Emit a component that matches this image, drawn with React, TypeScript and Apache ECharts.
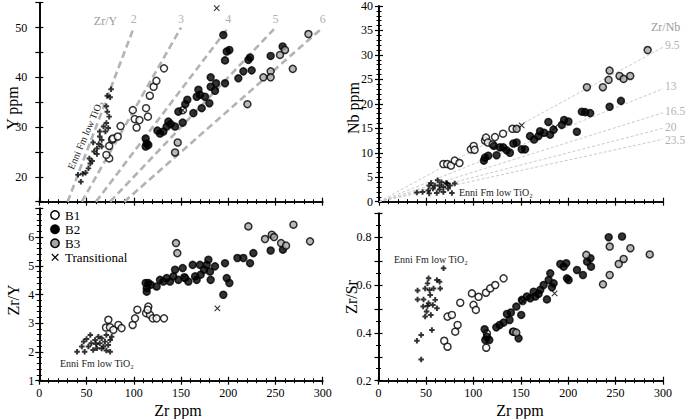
import React, { useEffect, useRef } from 'react';
import * as echarts from 'echarts';

const FONT = "'Liberation Serif', 'DejaVu Serif', serif";

// ---- tick labels ----
const zrTickLabels = [0, 50, 100, 150, 200, 250, 300];
const yTickLabels = [20, 30, 40, 50];
const nbTickLabels = [0, 5, 10, 15, 20, 25, 30, 35, 40];
const zrYTickLabels = [1, 2, 3, 4, 5, 6];
const zrSrTickLabels = [2, 4, 6, 8]; // tenths: 0.2, 0.4, 0.6, 0.8

// ---- reference ratios ----
const zrYRatios = [2, 3, 4, 5, 6];
const zrYLineY = [15, 50];
const zrNbRatios = [9.5, 13, 16.5, 20, 23.5];
const zrNbLineZr = [0, 300];

const legendNames = ['B1', 'B2', 'B3', 'Transitional'];
const enniLabel = 'Enni Fm low TiO₂';

// ---- Panel A: Y ppm vs Zr ppm ----
const aEnni = [[44,19.0],[41,20.4],[46,20.6],[49,20.8],[52,21.7],[54,22.7],[56,23.2],[53,23.7],[61,24.6],[58,25.1],[61,25.7],[66,26.1],[63,26.6],[57,26.9],[66,27.4],[64,28.1],[64,29.1],[70,29.1],[68,30.1],[73,29.8],[71,30.8],[74,32.1],[72,33.1],[71,34.2],[75,36.0],[72,36.3],[76,37.6]];
const aB1 = [[74,23.7],[71,24.4],[74,26.2],[77,27.5],[78,27.7],[83,28.1],[86,30.2],[99,33.4],[101,31.6],[103,29.9],[106,31.4],[113,33.8],[115,32.1],[117,36.3],[121,38.1],[124,39.3],[132,41.8],[152,33.4]];
const aB2 = [[112.6,27.7],[113.7,26.7],[112.6,26.1],[115.4,26.4],[125,29.3],[127.8,28.7],[131.3,29.1],[134.8,30.1],[136.6,31.1],[139.1,30.6],[143.7,30.1],[147.2,33.1],[151.8,30.9],[154.5,34.6],[156.7,35.5],[163.1,32.8],[166.6,36.1],[168.4,37.5],[170.1,36.5],[171.9,33.8],[175.4,36.1],[180,34.8],[181.4,38.1],[181.4,40],[186,37.3],[187.1,38.8],[194.8,48.5],[196.6,43.4],[196.6,38.8],[198.4,45.2],[201.2,45.5],[210.7,39.8],[216,41.2],[221.3,43.5],[223.1,44],[224.8,41.4],[244.9,44.3],[257.6,46.2]];
const aB3 = [[146.5,26.9],[143.7,24.9],[220.3,34.6],[237.2,40],[244.9,41.2],[244.9,40],[254.8,44.5],[260.1,45.5],[268.3,41.7],[284.9,48.7]];
const aTrans = [[187.8,53.9],[151.8,33.4]];

// ---- Panel B: Nb ppm vs Zr ppm ----
const bEnni = [[40,1.9],[46,2.0],[52,2.3],[53,3.3],[55,3.8],[62,4.4],[64,3.3],[68,3.0],[68,2.0],[72,3.7],[75,3.3],[80,3.7],[77,1.8],[61,1.8],[57,2.7],[66,4.0],[71,3.8],[53,1.7],[59,3.3],[73,2.7],[64,2.5]];
const bB1 = [[68,7.7],[72,7.7],[76,7.4],[80,8.4],[85,7.9],[97,10.7],[100,11.4],[101,10.6],[112,12.5],[113,13.1],[115,12.1],[120,11.7],[122.5,13.2],[131,13.9],[141,14.9]];
const bB2 = [[110.8,8.4],[111.9,9.0],[115.4,9.4],[121.4,11.4],[124.2,9.5],[127.8,11.1],[131.3,11.1],[134.8,10.5],[138.3,10.0],[141.9,11.9],[145.4,12.1],[150.7,10.7],[154.3,10.7],[159.5,13.4],[163.8,12.7],[168.4,13.4],[170.1,14.4],[174.4,14.1],[178.9,16.3],[180.7,13.7],[184.3,14.7],[193.1,15.7],[195.5,16.7],[200.1,16.4],[209,14.3],[214.3,18.4],[217.8,18.3],[223.1,18.1],[243.6,19.4],[255.6,20.6]];
const bB3 = [[145.4,14.9],[219.6,23.4],[236.5,23.4],[242.5,24.9],[243.6,26.8],[254.1,25.7],[258.4,25.1],[265.4,25.7],[283.8,31.0]];
const bTrans = [[150.7,15.6],[186,15.2]];

// ---- Panel C: Zr/Y vs Zr ppm ----
const cEnni = [[40,2.01],[45,2.19],[47,2.36],[52,2.19],[54,2.59],[55,2.30],[59,2.42],[61,2.13],[62.5,2.53],[64,2.30],[66,2.48],[68,2.19],[69.5,2.36],[71,2.59],[73,2.24],[75,2.42],[76.6,2.53],[71,2.05],[75,2.01],[48,2.01],[57,2.07],[50,2.45],[60,2.28],[66,2.12]];
const cB1 = [[70.6,2.85],[73.1,3.12],[74.8,2.86],[78.4,2.77],[83.7,2.94],[87.1,2.83],[98.8,2.94],[101.3,3.17],[103.8,3.47],[113,3.35],[115.4,3.58],[117.2,3.29],[120,3.17],[124.2,3.17],[132,3.17],[114.7,3.47],[153.5,4.6]];
const cB2 = [[112.6,4.40],[113.7,4.22],[113.7,4.10],[115.4,4.40],[117.9,4.34],[124.2,4.28],[127.8,4.51],[131.3,4.45],[134.8,4.57],[138.3,4.45],[141.9,4.63],[143.7,4.86],[147.2,4.51],[151.8,4.92],[154.3,4.57],[157.8,4.45],[162.4,5.03],[164.9,4.63],[166.6,4.51],[170.1,5.03],[170.8,4.69],[174.4,4.86],[177.2,5.03],[179,5.21],[180.7,4.80],[181.4,4.51],[186,4.98],[194.8,3.99],[196.6,5.09],[198.4,4.57],[201.2,4.40],[209.7,5.27],[216,5.27],[223.1,5.09],[226.6,5.44],[244.9,5.53],[257.9,5.56]];
const cB3 = [[144.7,5.79],[146.1,5.44],[221.3,6.37],[238.9,5.93],[246.1,6.08],[248.5,6.00],[255.9,5.79],[261.2,5.70],[269,6.43],[286.6,5.85]];
const cTrans = [[153.5,4.6],[188.5,3.52]];

// ---- Panel D: Zr/Sr vs Zr ppm ----
const dEnni = [[40.5,0.367],[45,0.391],[45,0.289],[41.2,0.577],[41.2,0.540],[47.5,0.540],[49.2,0.586],[51.7,0.607],[52.8,0.628],[53.8,0.579],[54.5,0.558],[47.1,0.510],[50.7,0.489],[49.2,0.468],[55.2,0.475],[56.3,0.412],[58,0.586],[59.8,0.538],[61.6,0.503],[61.6,0.621],[64.4,0.614],[65.1,0.586],[68.6,0.670],[52.8,0.524],[57.3,0.517],[51.7,0.512]];
const dB1 = [[69.3,0.367],[72.8,0.342],[72.8,0.468],[77.4,0.475],[80.9,0.405],[83.4,0.433],[86.2,0.526],[98.5,0.565],[100.2,0.517],[102.7,0.496],[105.5,0.551],[113.3,0.568],[114.3,0.398],[113.6,0.338],[117.8,0.586],[123.1,0.600],[131.9,0.628],[152,0.533]];
const dB2 = [[111.9,0.415],[112.6,0.370],[114.3,0.384],[116.8,0.370],[124.2,0.423],[127.7,0.433],[131.9,0.443],[135.4,0.479],[138.2,0.454],[139.6,0.485],[141.8,0.405],[147.7,0.377],[150.5,0.475],[145.3,0.510],[151.2,0.538],[156.5,0.552],[160,0.545],[163.6,0.572],[165.3,0.552],[168.8,0.563],[170.6,0.580],[174.1,0.600],[177.6,0.540],[179.4,0.621],[181.1,0.649],[182.9,0.591],[184.7,0.607],[191.7,0.688],[195.2,0.677],[198,0.691],[198.7,0.628],[200.5,0.621],[209.3,0.663],[215.6,0.642],[219.9,0.698],[223.5,0.712],[224.1,0.677],[242.7,0.800],[256.8,0.803]];
const dB3 = [[142.5,0.405],[145.3,0.401],[219.1,0.726],[236.7,0.603],[243.8,0.761],[243.8,0.642],[253.3,0.688],[258.5,0.709],[265.6,0.754],[286,0.728]];
const dTrans = [[152,0.533],[185.7,0.565]];

const PLUS = 'path://M3.2,0H6.8V3.2H10V6.8H6.8V10H3.2V6.8H0V3.2H3.2Z';
const CROSS = 'path://M0,0L10,10M10,0L0,10';

const near = (v: number, arr: number[]) => arr.some((t) => Math.abs(v - t) < 1e-6);

const grids = [
  { left: 39.3, top: 2.7, width: 283.4, height: 199 },
  { left: 379, top: 2.7, width: 284, height: 199 },
  { left: 39.3, top: 208.3, width: 283.4, height: 172.4 },
  { left: 378.5, top: 213.3, width: 284.5, height: 167.4 },
];

function xAxes(g: number, showLabels: boolean) {
  const base: any = {
    type: 'value', gridIndex: g, min: 0, max: 300, interval: 50, position: 'bottom',
    splitLine: { show: false },
    axisLine: { show: true, onZero: false, lineStyle: { color: '#000', width: 1.6 } },
  };
  return [
    {
      ...base,
      axisTick: { show: true, inside: false, length: 4, lineStyle: { color: '#000', width: 1.2 } },
      minorTick: { show: true, splitNumber: 5, length: 2.5, lineStyle: { color: '#000', width: 1 } },
      axisLabel: {
        show: showLabels, margin: 6, fontFamily: FONT, fontSize: 12, color: '#000',
        showMinLabel: true, showMaxLabel: true, hideOverlap: false,
        formatter: (v: number) => (near(v, zrTickLabels) ? String(v) : ''),
      },
    },
    {
      ...base,
      axisTick: { show: true, inside: true, length: 4, lineStyle: { color: '#000', width: 1.2 } },
      minorTick: { show: true, splitNumber: 5, length: 2.5, lineStyle: { color: '#000', width: 1 } },
      axisLabel: { show: false },
    },
  ];
}

function yAxes(g: number, min: number, max: number, interval: number, minorSplit: number,
  fmt: (v: number) => string, margin: number) {
  const base: any = {
    type: 'value', gridIndex: g, min, max, interval, position: 'left',
    splitLine: { show: false },
    axisLine: { show: true, onZero: false, lineStyle: { color: '#000', width: 1.6 } },
  };
  const minor = minorSplit > 0
    ? { show: true, splitNumber: minorSplit, length: 2.5, lineStyle: { color: '#000', width: 1 } }
    : { show: false };
  return [
    {
      ...base,
      axisTick: { show: true, inside: false, length: 4, lineStyle: { color: '#000', width: 1.2 } },
      minorTick: minor,
      axisLabel: {
        show: true, margin, fontFamily: FONT, fontSize: 12, color: '#000',
        showMinLabel: true, showMaxLabel: true, hideOverlap: false,
        formatter: fmt,
      },
    },
    {
      ...base,
      axisTick: { show: true, inside: true, length: 4, lineStyle: { color: '#000', width: 1.2 } },
      minorTick: minor,
      axisLabel: { show: false },
    },
  ];
}

const styleFor: Record<string, any> = {
  B1: { symbol: 'circle', symbolSize: 7, itemStyle: { color: '#fff', borderColor: '#000', borderWidth: 1.5 } },
  B2: { symbol: 'circle', symbolSize: 7, itemStyle: { color: '#000', borderColor: '#000', borderWidth: 1.5 } },
  B3: { symbol: 'circle', symbolSize: 7, itemStyle: { color: '#a6a6a6', borderColor: '#000', borderWidth: 1.5 } },
  Transitional: { symbol: CROSS, symbolSize: 5.5, itemStyle: { color: 'rgba(0,0,0,0)', borderColor: '#000', borderWidth: 1.1 } },
  Enni: { symbol: PLUS, symbolSize: 5.5, itemStyle: { color: '#000' } },
};

function pointSeries(g: number, sets: Record<string, number[][]>) {
  return ['B1', 'B2', 'B3', 'Transitional', 'Enni'].map((name) => ({
    type: 'scatter', name, xAxisIndex: 2 * g, yAxisIndex: 2 * g,
    data: sets[name], silent: true, z: 3, ...styleFor[name],
  }));
}

const textStyle = (size: number, color = '#000', align = 'left') => ({
  font: `${size}px ${FONT}`, fontSize: size, fontFamily: FONT, fill: color,
  align, textAlign: align, verticalAlign: 'middle', textVerticalAlign: 'middle',
});

// vertical nudges (px) for the Zr/Nb labels so they do not collide
const zrNbLabelNudge = [-2, -2.6, -2, -1, 0.5];

export default function App() {
  const ref = useRef<HTMLDivElement>(null);
  useEffect(() => {
    if (!ref.current) return;
    const chart = echarts.init(ref.current, undefined, { renderer: 'svg' });

    const lineSeries: any[] = [];
    zrYRatios.forEach((k) => {
      lineSeries.push({
        type: 'line', xAxisIndex: 0, yAxisIndex: 0, silent: true, symbol: 'none', z: 1,
        data: zrYLineY.map((y) => [k * y, y]),
        lineStyle: { color: '#b3b3b3', width: 2.6, type: [7, 4] },
      });
    });
    lineSeries.push({
      type: 'scatter', xAxisIndex: 0, yAxisIndex: 0, silent: true, symbolSize: 1, z: 1,
      itemStyle: { color: 'rgba(0,0,0,0)' },
      data: zrYRatios.map((k) => ({ value: [k * zrYLineY[1], zrYLineY[1]], name: String(k) })),
      label: { show: true, position: 'top', distance: 2, formatter: '{b}', color: '#9a9a9a', fontFamily: FONT, fontSize: 12 },
    });
    zrNbRatios.forEach((k) => {
      lineSeries.push({
        type: 'line', xAxisIndex: 2, yAxisIndex: 2, silent: true, symbol: 'none', z: 1,
        data: zrNbLineZr.map((x) => [x, x / k]),
        lineStyle: { color: '#c4c4c4', width: 0.9, type: [3, 2] },
      });
    });
    lineSeries.push({
      type: 'scatter', xAxisIndex: 2, yAxisIndex: 2, silent: true, symbolSize: 1, z: 1,
      itemStyle: { color: 'rgba(0,0,0,0)' },
      data: zrNbRatios.map((k, i) => ({
        value: [zrNbLineZr[1], zrNbLineZr[1] / k], name: String(k),
        label: { offset: [0, zrNbLabelNudge[i]] },
      })),
      label: { show: true, position: 'right', distance: 1.5, formatter: '{b}', color: '#9a9a9a', fontFamily: FONT, fontSize: 11.5, lineHeight: 11 },
    });

    const legendY = [215, 229.3, 243.3, 257.3];
    const legendFill: Record<string, string> = { B1: '#fff', B2: '#000', B3: '#a6a6a6' };
    const legendEls: any[] = [];
    legendNames.forEach((n, i) => {
      if (n === 'Transitional') {
        legendEls.push({ type: 'line', shape: { x1: 51.8, y1: legendY[i] - 3.3, x2: 58.4, y2: legendY[i] + 3.3 }, style: { stroke: '#000', lineWidth: 1.2 } });
        legendEls.push({ type: 'line', shape: { x1: 58.4, y1: legendY[i] - 3.3, x2: 51.8, y2: legendY[i] + 3.3 }, style: { stroke: '#000', lineWidth: 1.2 } });
      } else {
        legendEls.push({ type: 'circle', shape: { cx: 55, cy: legendY[i], r: 4.2 }, style: { fill: legendFill[n], stroke: '#000', lineWidth: 1.5 } });
      }
      legendEls.push({ type: 'text', x: 65, y: legendY[i], style: { text: n, ...textStyle(13) } });
    });

    const graphics: any[] = [
      ...legendEls,
      { type: 'text', x: 85, y: 135, rotation: 1.16, style: { text: enniLabel, ...textStyle(10, '#222', 'center') } },
      { type: 'text', x: 459, y: 192, style: { text: enniLabel, ...textStyle(10, '#222') } },
      { type: 'text', x: 60, y: 363, style: { text: enniLabel, ...textStyle(10, '#222') } },
      { type: 'text', x: 394, y: 259, style: { text: enniLabel, ...textStyle(10, '#222') } },
      { type: 'text', x: 105.5, y: 21, style: { text: 'Zr/Y', ...textStyle(12, '#9a9a9a', 'center') } },
      { type: 'text', x: 651, y: 27, style: { text: 'Zr/Nb', ...textStyle(12, '#9a9a9a') } },
      { type: 'text', x: 12, y: 108, rotation: Math.PI / 2, style: { text: 'Y ppm', ...textStyle(16, '#000', 'center') } },
      { type: 'text', x: 353, y: 108, rotation: Math.PI / 2, style: { text: 'Nb ppm', ...textStyle(16, '#000', 'center') } },
      { type: 'text', x: 13, y: 300, rotation: Math.PI / 2, style: { text: 'Zr/Y', ...textStyle(16, '#000', 'center') } },
      { type: 'text', x: 351, y: 297, rotation: Math.PI / 2, style: { text: 'Zr/Sr', ...textStyle(16, '#000', 'center') } },
      { type: 'text', x: 178, y: 410, style: { text: 'Zr ppm', ...textStyle(16, '#000', 'center') } },
      { type: 'text', x: 520, y: 410, style: { text: 'Zr ppm', ...textStyle(16, '#000', 'center') } },
    ];

    const intFmt = (labels: number[]) => (v: number) => (near(v, labels) ? String(Math.round(v)) : '');
    const zrSrFmt = (v: number) => {
      const tenths = Math.round(v * 10);
      return zrSrTickLabels.includes(tenths) ? (tenths / 10).toFixed(1) : '';
    };

    const option: any = {
      animation: false,
      backgroundColor: '#fff',
      grid: grids,
      xAxis: [...xAxes(0, false), ...xAxes(1, false), ...xAxes(2, true), ...xAxes(3, true)],
      yAxis: [
        ...yAxes(0, 15, 55, 5, 0, intFmt(yTickLabels), 12),
        ...yAxes(1, 0, 40, 5, 5, intFmt(nbTickLabels), 6),
        ...yAxes(2, 1, 7, 1, 5, intFmt(zrYTickLabels), 5),
        ...yAxes(3, 0.2, 0.9, 0.1, 2, zrSrFmt, 7),
      ],
      series: [
        ...lineSeries,
        ...pointSeries(0, { B1: aB1, B2: aB2, B3: aB3, Transitional: aTrans, Enni: aEnni }),
        ...pointSeries(1, { B1: bB1, B2: bB2, B3: bB3, Transitional: bTrans, Enni: bEnni }),
        ...pointSeries(2, { B1: cB1, B2: cB2, B3: cB3, Transitional: cTrans, Enni: cEnni }),
        ...pointSeries(3, { B1: dB1, B2: dB2, B3: dB3, Transitional: dTrans, Enni: dEnni }),
      ],
      graphic: { elements: graphics },
    };
    chart.setOption(option);
    return () => chart.dispose();
  }, []);
  return (
    <div
      ref={ref}
      style={{ position: 'fixed', left: 0, top: 0, width: 685, height: 419, background: '#fff' }}
    />
  );
}
